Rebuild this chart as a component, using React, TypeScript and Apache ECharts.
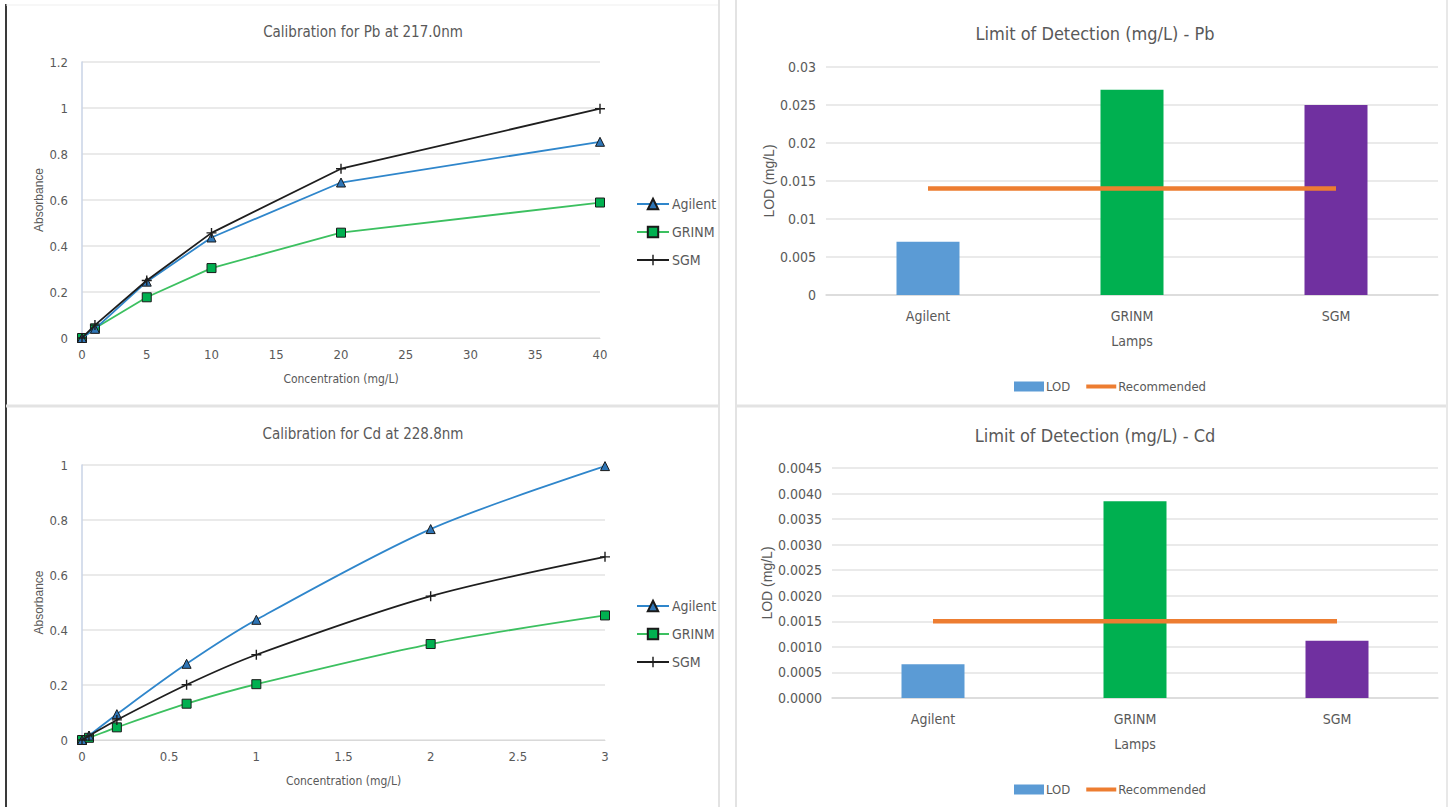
import React, { useEffect, useRef } from "react";
import * as echarts from "echarts";

// ---------- data ----------
const pbConc = [0, 1, 5, 10, 20, 40];
const pbAgilent = [0, 0.04, 0.245, 0.437, 0.676, 0.853];
const pbGRINM = [0, 0.042, 0.177, 0.304, 0.458, 0.589];
const pbSGM = [0, 0.056, 0.25, 0.457, 0.736, 0.997];

const cdConc = [0, 0.04, 0.2, 0.6, 1, 2, 3];
const cdAgilent = [0, 0.016, 0.094, 0.277, 0.437, 0.767, 0.996];
const cdGRINM = [0, 0.008, 0.046, 0.132, 0.203, 0.349, 0.453];
const cdSGM = [0, 0.015, 0.073, 0.201, 0.31, 0.523, 0.666];

const lamps = ["Agilent", "GRINM", "SGM"];
const lampColors = ["#5B9BD5", "#00B050", "#7030A0"];
const lodPb = [0.007, 0.027, 0.025];
const recPb = [0.014, 0.014, 0.014];
const lodCd = [0.00066, 0.00385, 0.00112];
const recCd = [0.0015, 0.0015, 0.0015];

const lineNames = ["Agilent", "GRINM", "SGM"];

// ---------- styling ----------
const NARROW = "'Liberation Sans Narrow', 'DejaVu Sans Condensed', sans-serif";
const REG = "'Liberation Sans', Arial, sans-serif";
const TXT = "#595959";
const GRID = "#E3E3E3";
const PLUS = "path://M4.3,0H5.7V4.3H10V5.7H5.7V10H4.3V5.7H0V4.3H4.3Z";

const lineStyles: Record<string, any> = {
  Agilent: { color: "#2F86CB", symbol: "triangle", symbolSize: 9, fill: "#2E75B6", border: "#1a1a1a" },
  GRINM: { color: "#3CC060", symbol: "rect", symbolSize: 9, fill: "#00B050", border: "#1a1a1a" },
  SGM: { color: "#1E1E1E", symbol: PLUS, symbolSize: 10, fill: "#1E1E1E", border: "#1E1E1E" },
};

function pairs(xs: number[], ys: number[]) {
  return xs.map((x, i) => [x, ys[i]]);
}

function calSeries(name: string, xs: number[], ys: number[], axis: number, smooth: boolean) {
  const s = lineStyles[name];
  return {
    name,
    type: "line",
    xAxisIndex: axis,
    yAxisIndex: axis,
    data: pairs(xs, ys),
    smooth: smooth ? 0.3 : false,
    symbol: s.symbol,
    symbolSize: s.symbolSize,
    showAllSymbol: true,
    lineStyle: { color: s.color, width: 1.8 },
    itemStyle: {
      color: s.fill,
      borderColor: s.border,
      borderWidth: name === "SGM" ? 0 : 1,
    },
    z: name === "SGM" ? 4 : name === "Agilent" ? 3 : 2,
  };
}

function calAxes(gridIndex: number, xmax: number, xint: number, ymax: number) {
  const x = {
    type: "value",
    gridIndex,
    min: 0,
    max: xmax,
    interval: xint,
    name: "Concentration (mg/L)",
    nameLocation: "middle",
    nameGap: 35,
    nameTextStyle: { color: TXT, fontFamily: NARROW, fontSize: 12 },
    axisLine: { show: true, lineStyle: { color: "#D9D9D9", width: 1 } },
    axisTick: { show: false },
    splitLine: { show: false },
    axisLabel: { color: TXT, fontFamily: NARROW, fontSize: 13, margin: 10 },
  };
  const y = {
    type: "value",
    gridIndex,
    min: 0,
    max: ymax,
    interval: 0.2,
    name: "Absorbance",
    nameLocation: "middle",
    nameGap: 37,
    nameTextStyle: { color: TXT, fontFamily: REG, fontSize: 12 },
    axisLine: { show: true, lineStyle: { color: "#C9D3E6", width: 1.5 } },
    axisTick: { show: false },
    splitLine: { show: true, lineStyle: { color: GRID, width: 1.5 } },
    axisLabel: { color: TXT, fontFamily: NARROW, fontSize: 13, margin: 14 },
  };
  return { x, y };
}

function barAxes(gridIndex: number, max: number, interval: number, decimals: number | null, nameGap: number) {
  const x = {
    type: "category",
    gridIndex,
    data: lamps,
    name: "Lamps",
    nameLocation: "middle",
    nameGap: 39,
    nameTextStyle: { color: TXT, fontFamily: NARROW, fontSize: 14 },
    axisLine: { show: true, lineStyle: { color: "#D9D9D9", width: 1.5 } },
    axisTick: { show: false },
    axisLabel: { color: TXT, fontFamily: NARROW, fontSize: 14, margin: 14 },
  };
  const y = {
    type: "value",
    gridIndex,
    min: 0,
    max,
    interval,
    name: "LOD (mg/L)",
    nameLocation: "middle",
    nameGap,
    nameTextStyle: { color: TXT, fontFamily: REG, fontSize: 14 },
    axisLine: { show: false },
    axisTick: { show: false },
    splitLine: { show: true, lineStyle: { color: GRID, width: 1.5 } },
    axisLabel: {
      color: TXT,
      fontFamily: NARROW,
      fontSize: 14,
      margin: 10,
      formatter: decimals === null ? undefined : (v: number) => v.toFixed(decimals),
    },
  };
  return { x, y };
}

function barSeries(values: number[], axis: number) {
  return {
    name: "LOD",
    type: "bar",
    xAxisIndex: axis,
    yAxisIndex: axis,
    barWidth: 63,
    itemStyle: { color: "#5B9BD5" },
    data: values.map((v, i) => ({ value: v, itemStyle: { color: lampColors[i] } })),
    z: 2,
  };
}

function recSeries(values: number[], axis: number) {
  return {
    name: "Recommended",
    type: "line",
    xAxisIndex: axis,
    yAxisIndex: axis,
    data: values,
    symbol: "none",
    lineStyle: { color: "#ED7D31", width: 4.5 },
    itemStyle: { color: "#ED7D31" },
    z: 5,
  };
}

function makeTitle(text: string, cx: number, cy: number, size: number) {
  return {
    text,
    left: cx,
    top: cy - size * 0.6,
    textAlign: "center",
    padding: 0,
    textStyle: { color: TXT, fontFamily: NARROW, fontSize: size, fontWeight: "normal" },
  };
}

function lineLegend(top: number) {
  return {
    orient: "vertical",
    left: 631,
    top,
    itemWidth: 32,
    itemHeight: 13,
    itemGap: 14,
    data: lineNames,
    textStyle: { color: TXT, fontFamily: NARROW, fontSize: 14, padding: [0, 0, 0, -2] },
  };
}

function barLegend(top: number) {
  return {
    orient: "horizontal",
    left: 1009,
    top,
    itemWidth: 30,
    itemHeight: 10,
    itemGap: 14,
    data: [
      { name: "LOD", icon: "rect" },
      { name: "Recommended", itemStyle: { opacity: 0 }, lineStyle: { width: 4, color: "#ED7D31" } },
    ],
    textStyle: { color: TXT, fontFamily: NARROW, fontSize: 13, padding: [0, 0, 0, -3] },
  };
}

export default function App() {
  const ref = useRef<HTMLDivElement>(null);

  useEffect(() => {
    if (!ref.current) return;
    const chart = echarts.init(ref.current, null, { renderer: "svg" });

    const a0 = calAxes(0, 40, 5, 1.2);
    const a1 = calAxes(1, 3, 0.5, 1);
    const a2 = barAxes(2, 0.03, 0.005, null, 48);
    const a3 = barAxes(3, 0.0045, 0.0005, 4, 55);

    const option: any = {
      animation: false,
      backgroundColor: "#ffffff",
      title: [
        makeTitle("Calibration for Pb at 217.0nm", 363, 33, 15),
        makeTitle("Calibration for Cd at 228.8nm", 363, 435, 15),
        makeTitle("Limit of Detection (mg/L) - Pb", 1095, 35, 18),
        makeTitle("Limit of Detection (mg/L) - Cd", 1095, 437, 18),
      ],
      legend: [lineLegend(192), lineLegend(594), barLegend(375), barLegend(778)],
      grid: [
        { left: 82, top: 62, width: 518, height: 276 },
        { left: 82, top: 465, width: 523, height: 275 },
        { left: 826, top: 67, width: 612, height: 228 },
        { left: 832, top: 468, width: 606, height: 230 },
      ],
      xAxis: [a0.x, a1.x, a2.x, a3.x],
      yAxis: [a0.y, a1.y, a2.y, a3.y],
      series: [
        calSeries("Agilent", pbConc, pbAgilent, 0, false),
        calSeries("GRINM", pbConc, pbGRINM, 0, false),
        calSeries("SGM", pbConc, pbSGM, 0, false),
        calSeries("Agilent", cdConc, cdAgilent, 1, true),
        calSeries("GRINM", cdConc, cdGRINM, 1, true),
        calSeries("SGM", cdConc, cdSGM, 1, true),
        barSeries(lodPb, 2),
        recSeries(recPb, 2),
        barSeries(lodCd, 3),
        recSeries(recCd, 3),
      ],
      graphic: [
        { type: "line", shape: { x1: 6, y1: 4, x2: 6, y2: 807 }, style: { stroke: "#3a3a3a", lineWidth: 2 } },
        { type: "line", shape: { x1: 6, y1: 5, x2: 719, y2: 5 }, style: { stroke: "#EFEFEF", lineWidth: 1 } },
        { type: "line", shape: { x1: 719, y1: 0, x2: 719, y2: 807 }, style: { stroke: "#E3E3E3", lineWidth: 2 } },
        { type: "line", shape: { x1: 736, y1: 0, x2: 736, y2: 807 }, style: { stroke: "#E3E3E3", lineWidth: 2 } },
        { type: "line", shape: { x1: 6, y1: 406, x2: 719, y2: 406 }, style: { stroke: "#E3E3E3", lineWidth: 3 } },
        { type: "line", shape: { x1: 736, y1: 406, x2: 1447, y2: 406 }, style: { stroke: "#E3E3E3", lineWidth: 3 } },
        { type: "line", shape: { x1: 1447, y1: 0, x2: 1447, y2: 807 }, style: { stroke: "#E8E8E8", lineWidth: 2 } },
      ],
    };

    chart.setOption(option);
    return () => chart.dispose();
  }, []);

  return (
    <div
      ref={ref}
      style={{ position: "absolute", left: 0, top: 0, width: 1452, height: 807, background: "#fff" }}
    />
  );
}
